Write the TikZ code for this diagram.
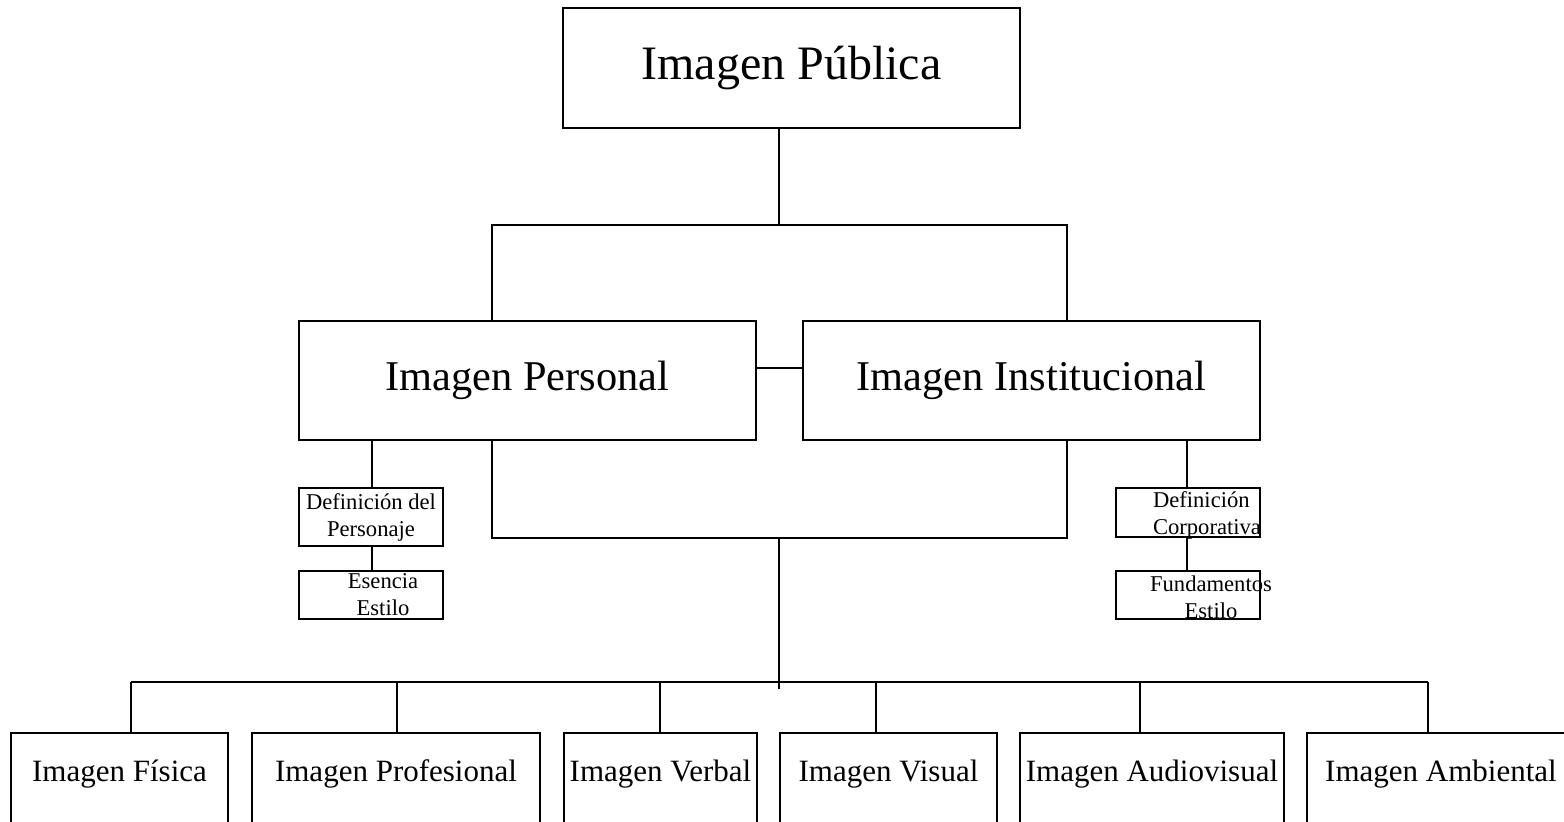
\documentclass[tikz,border=0pt]{standalone}
\usepackage{fontspec}
\setmainfont{Liberation Serif}
\usetikzlibrary{calc}

\begin{document}
\begin{tikzpicture}[x=0.5pt, y=-0.5pt, line width=1pt,
    box/.style={draw, line width=1pt, inner sep=0pt},
    topbox/.style={box, minimum width=228.5pt, minimum height=60pt, font=\fontsize{24}{28}\selectfont},
    midbox/.style={box, minimum width=228.5pt, minimum height=59.5pt, font=\fontsize{21.2}{25}\selectfont},
    smallbox/.style={box, minimum width=72pt},
    smalltxt/.style={inner sep=0pt, align=center, font=\fontsize{11.3}{13.5}\selectfont},
    leafbox/.style={box, anchor=north, text height=24.5pt, text depth=30pt, font=\fontsize{15.5}{18}\selectfont}]
  \useasboundingbox (0,0) rectangle (1564,822);
  \clip (0,0) rectangle (1564,822);

  % main boxes
  \node[topbox] (pub) at (791.5,68) {Imagen Pública};
  \node[midbox] (pers) at (527.5,380.5) {Imagen Personal};
  \node[midbox] (inst) at (1031.5,380.5) {Imagen Institucional};

  % side boxes
  \node[smallbox, minimum height=29pt] (defper) at (371,517) {};
  \node[smalltxt] (defper-t) at (defper.center) {Definición del\\Personaje};
  \node[smallbox, minimum height=24pt] (esen) at (371,595) {};
  \node[smalltxt] (esen-t) at ([xshift=6pt]esen.center) {Esencia\\Estilo};
  \node[smallbox, minimum height=24.5pt] (defcorp) at (1188,512.5) {};
  \node[smalltxt, anchor=west, align=left] (defcorp-t) at (1152,515.5) {Definición\\Corporativa};
  \node[smallbox, minimum height=24pt] (fund) at (1188,595) {};
  \node[smalltxt] (fund-t) at (1211,597) {Fundamentos\\Estilo};

  % bottom row
  \node[leafbox, minimum width=108.5pt] (fis) at (119.5,732) {Imagen Física};
  \node[leafbox, minimum width=144pt] (prof) at (396,732) {Imagen Profesional};
  \node[leafbox, minimum width=96.5pt] (verb) at (660.5,732) {Imagen Verbal};
  \node[leafbox, minimum width=108.5pt] (vis) at (888.5,732) {Imagen Visual};
  \node[leafbox, minimum width=132pt] (aud) at (1152,732) {Imagen Audiovisual};
  \node[leafbox, minimum width=134pt] (amb) at (1441,732) {Imagen Ambiental};

  % junction points
  \coordinate (j) at (779,225);
  \coordinate (jl) at (492,225);
  \coordinate (jr) at (1067,225);
  \coordinate (k) at (779,538);
  \coordinate (kl) at (492,538);
  \coordinate (kr) at (1067,538);
  \coordinate (stemend) at (779,689);

  % connectors
  \draw (pub.south -| j) -- (j);
  \draw (pers.north -| jl) -- (jl) -- (jr) -- (inst.north -| jr);
  \draw (pers.east |- 0,368) -- (inst.west |- 0,368);
  \draw (pers.south -| kl) -- (kl) -- (kr) -- (inst.south -| kr);
  \draw (k) -- (stemend);
  \draw (pers.south -| 372,0) -- (defper.north -| 372,0);
  \draw (defper.south -| 372,0) -- (esen.north -| 372,0);
  \draw (inst.south -| 1187,0) -- (defcorp.north -| 1187,0);
  \draw (defcorp.south -| 1187,0) -- (fund.north -| 1187,0);

  % bus to the bottom row
  \draw (131,682) -- (1428,682);
  \foreach \n/\x in {fis/131, prof/397, verb/660, vis/876, aud/1140, amb/1428}
    \draw (\x,682) -- (\n.north -| \x,0);
\end{tikzpicture}
\end{document}
